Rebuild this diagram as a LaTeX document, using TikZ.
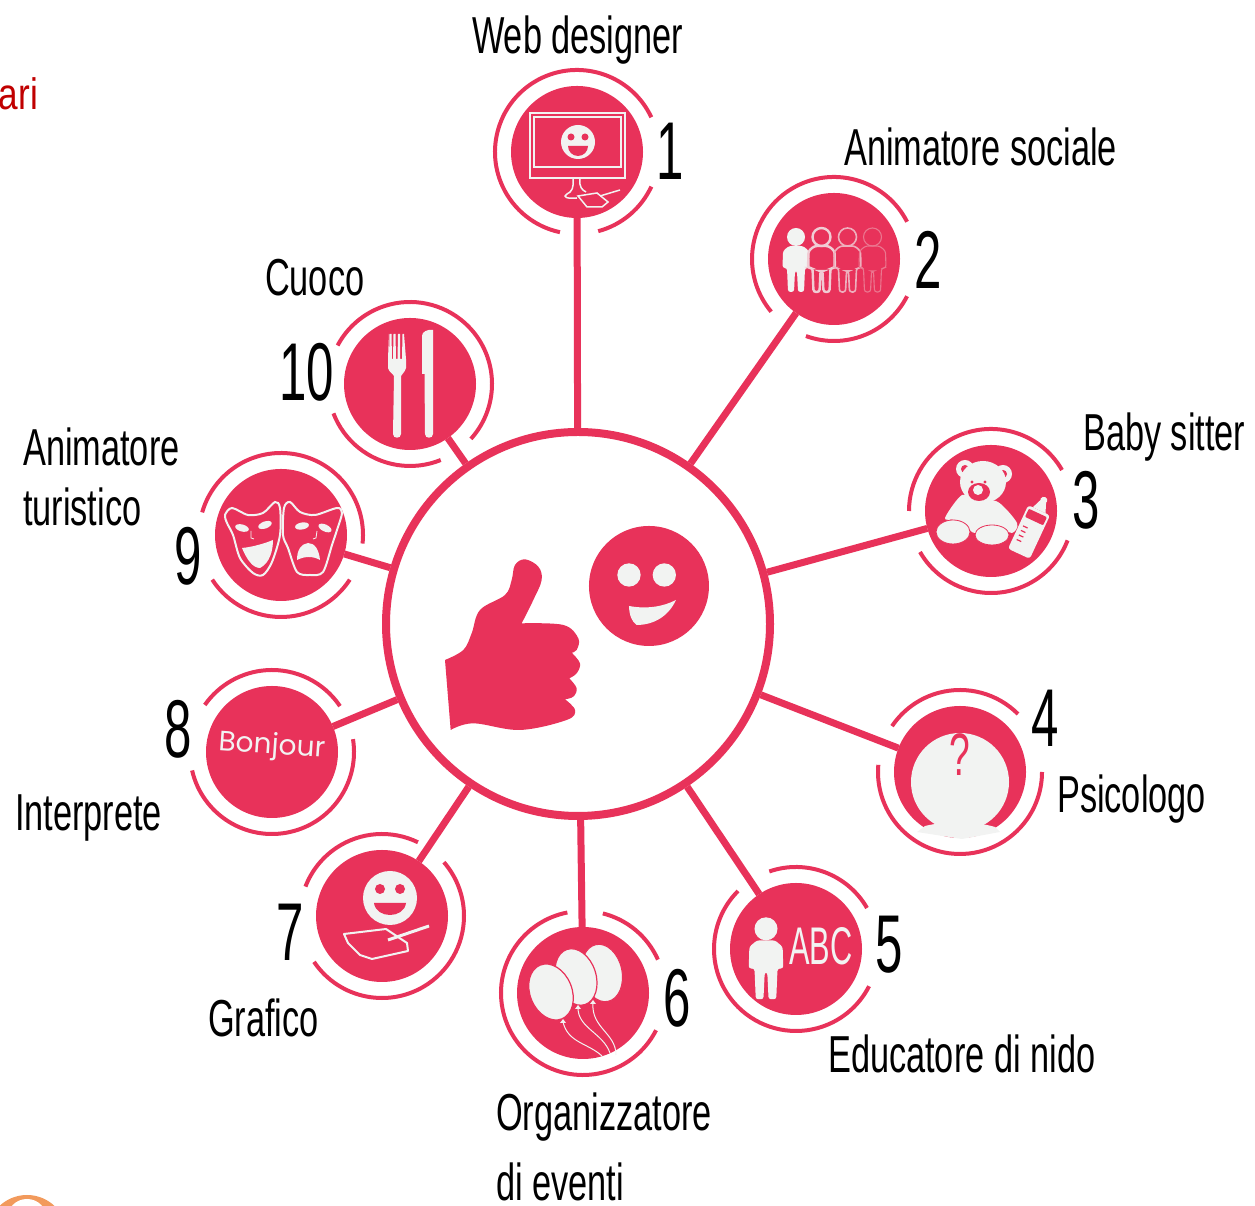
\documentclass[tikz,border=0pt]{standalone}
\usepackage{fontspec}
\setmainfont{Liberation Sans}
\newfontfamily\bonjourfont{Poppins}
\usepackage{xcolor}
\usepackage{tikz}
\definecolor{rosso}{HTML}{E8325A}
\definecolor{chiaro}{HTML}{F2F3F2}
\definecolor{rossotitolo}{HTML}{C00000}
\definecolor{arancio}{HTML}{F29A5C}
\newcommand{\kidshape}[1]{
    \path[#1] (0,22) circle (9);
    \path[#1,rounded corners=2.5pt] (-8,-33) -- (-9,-9) -- (-13.5,-9) -- (-13,8) -- (-7,13) -- (7,13) -- (13,8) -- (13.5,-9) -- (9,-9) -- (8,-33) -- (2,-33) -- (1,-12) -- (-1,-12) -- (-2,-33) -- cycle;
}
\tikzset{
    disc/.style={circle, fill=rosso, minimum size=132pt, inner sep=0pt, outer sep=0pt},
    hubring/.style={circle, draw=rosso, line width=8pt, minimum size=384pt, inner sep=0pt, fill=white},
    spoke/.style={draw=rosso, line width=7pt},
    ringline/.style={draw=rosso, line width=4pt},
    job/.style={anchor=base west, inner sep=0pt, font=\fontsize{52}{52}\selectfont, xscale=.66},
    num/.style={inner sep=0pt, font=\fontsize{82}{82}\selectfont, xscale=.6},
    tratto/.style={draw=chiaro, line width=1.5pt},
    chiarofill/.style={fill=chiaro},
    rossofill/.style={fill=rosso}
}
\begin{document}
\begin{tikzpicture}[x=1pt, y=1pt]
    \useasboundingbox (0,0) rectangle (1255,1206);

    \node (hub) [hubring] at (578,582) {};
    \foreach \n/\px/\py in {1/577/1054, 2/834/947, 3/991/695, 4/960/434, 5/796/257, 6/583/213, 7/382/290, 8/272/454, 9/281/671, 10/410/822}
        \node (d\n) [disc] at (\px,\py) {};
    \foreach \n in {1,...,10}
        \draw [spoke] (hub) -- (d\n);
    \foreach \n/\a/\b in {1/25/258, 1/285/335, 2/27/220, 2/250/333, 3/30/180, 3/210/339, 4/45/146, 4/175/360, 5/30/109, 5/135/333, 6/24/76, 6/101/333, 7/64/159, 7/214/401, 8/34/145, 8/193/369, 9/-6/164, 9/213/327, 10/318/512, 10/201/292}
        \draw [ringline] (d\n.center) ++(\a:82) arc [start angle=\a, end angle=\b, radius=82pt];

    \node (job1) [job] at (472,1152) {Web designer};
    \node (job2) [job] at (844,1040) {Animatore sociale};
    \node (job3) [job] at (1083,755) {Baby sitter};
    \node (job4) [job] at (1057,393) {Psicologo};
    \node (job5) [job] at (828,133) {Educatore di nido};
    \node (job6a) [job] at (496,75) {Organizzatore};
    \node (job6b) [job] at (496,5) {di eventi};
    \node (job7) [job] at (208,169) {Grafico};
    \node (job8) [job] at (15,375) {Interprete};
    \node (job9a) [job] at (23,740) {Animatore};
    \node (job9b) [job] at (23,680) {turistico};
    \node (job10) [job] at (265,910) {Cuoco};

    \node (num1) [num] at (670,1055) {1};
    \node (num2) [num] at (928,946) {2};
    \node (num3) [num] at (1086,706) {3};
    \node (num4) [num] at (1045,488) {4};
    \node (num5) [num] at (889,261) {5};
    \node (num6) [num] at (677,208) {6};
    \node (num7) [num] at (290,274) {7};
    \node (num8) [num] at (178,477) {8};
    \node (num9) [num] at (188,650) {9};
    \node (num10) [num] at (307,834) {10};

    \node (titolo) [anchor=base east, inner sep=0pt, text=rossotitolo, font=\fontsize{44}{44}\selectfont, xscale=.8] at (38,1096) {ari};
    \fill [arancio] (27,-29) circle (40);
    \fill [white] (27,-13) circle (20);

    \begin{scope}[shift={(430,696)}, x=.3333pt, y=-.3333pt]
        \fill [rosso] plot [smooth, tension=.6] coordinates {(45,450) (100,420) (125,370) (150,300) (225,255) (245,210) (255,165) (285,148) (325,170) (335,210) (310,270) (275,340)}
            -- plot [smooth, tension=.6] coordinates {(275,340) (400,345) (445,385) (440,420) (425,428)}
            -- plot [smooth, tension=.6] coordinates {(425,428) (450,460) (440,490) (418,505)}
            -- plot [smooth, tension=.6] coordinates {(418,505) (440,535) (430,560) (405,568)}
            -- plot [smooth, tension=.6] coordinates {(405,568) (435,600) (410,630) (270,660) (130,640) (62,660)}
            -- cycle;
        \fill [rosso] (657,228) circle [radius=180];
        \fill [chiaro] (597,195) circle [radius=35];
        \fill [chiaro] (703,195) circle [radius=35];
        \fill [chiaro] (597,288) .. controls (650,298) and (700,290) .. (738,270) .. controls (715,320) and (670,345) .. (620,345) .. controls (605,335) and (598,315) .. cycle;
    \end{scope}

    \begin{scope}[shift={(d1.center)}]
        \draw [tratto] (-47,-26) rectangle (48,39);
        \draw [tratto] (-43,-15) rectangle (44,35);
        \fill [chiaro] (1,10) circle (17);
        \fill [rosso] (-6,15) circle (3.5);
        \fill [rosso] (8,15) circle (3.5);
        \fill [rosso] (-9,6) arc [start angle=180, end angle=360, radius=10pt] -- cycle;
        \draw [tratto] (-4,-27) .. controls (-3,-35) and (-5,-40) .. (-10,-42) .. controls (-15,-45) and (-10,-47) .. (0,-46);
        \draw [tratto] (3,-27) .. controls (2,-35) and (5,-38) .. (9,-40);
        \draw [tratto] (1,-44) -- (20,-41) -- (31,-50) -- (25,-55) -- (10,-55) -- cycle;
        \draw [tratto] (23,-44) -- (43,-38);
    \end{scope}

    \begin{scope}[shift={(d2.center)}]
        \begin{scope}[xshift=-38]
            \kidshape{chiarofill}
        \end{scope}
        \begin{scope}[xshift=-12.5]
            \kidshape{draw=chiaro!80!rosso, line width=2.4pt}
        \end{scope}
        \begin{scope}[xshift=13.5]
            \kidshape{draw=chiaro!65!rosso, line width=1.6pt}
        \end{scope}
        \begin{scope}[xshift=38.5]
            \kidshape{draw=chiaro!35!rosso, line width=1.1pt}
        \end{scope}
    \end{scope}

    \begin{scope}[shift={(d3.center)}]
        \fill [chiaro] (-26,42) circle (9);
        \fill [chiaro] (12,37) circle (9);
        \fill [rosso] (-26,42) circle (4);
        \fill [rosso] (12,37) circle (4);
        \fill [chiaro] plot [smooth cycle] coordinates {(-46,-7) (-29,16) (-13,11) (7,9) (26,-12) (21,-22) (6,-16) (-16,-22) (-24,-16) (-36,-9)};
        \fill [chiaro] (-8,29) ellipse [x radius=23, y radius=21];
        \filldraw [chiaro, draw=rosso, line width=.8pt] (-38,-21) ellipse [x radius=17, y radius=12];
        \filldraw [chiaro, draw=rosso, line width=.8pt] (1,-24) ellipse [x radius=17, y radius=10];
        \fill [rosso] (-12,19) ellipse [x radius=11, y radius=9];
        \fill [chiaro] (-13,21) ellipse [x radius=5, y radius=5];
        \fill [rosso] (-19,29) circle (1.7);
        \fill [rosso] (-6,29) circle (1.7);
        \begin{scope}[shift={(38,-21)}, rotate=-25]
            \fill [chiaro, rounded corners=3pt] (-12,-24) rectangle (12,24);
            \fill [chiaro] (-7,24) -- (-3,34) -- (3,34) -- (7,24) -- cycle;
            \fill [chiaro] (0,35) circle (3.5);
            \fill [rosso, rounded corners=1pt] (-10,12) rectangle (10,21);
            \foreach \ty in {-12,-7,-2,3}
                \draw [rosso, line width=1.2pt] (-8,\ty) -- (-3,\ty);
        \end{scope}
    \end{scope}

    \begin{scope}[shift={(d4.center)}]
        \fill [chiaro] (0,-10) circle (49);
        \fill [chiaro] (-43,-60) -- (-35,-54) .. controls (-15,-49) and (15,-49) .. (35,-55) -- (40,-60) -- (2,-67) -- cycle;
        \node (domanda) [inner sep=0pt, text=rosso, font=\fontsize{60}{60}\selectfont, xscale=.62] at (0,17) {?};
    \end{scope}

    \begin{scope}[shift={(d5.center)}]
        \begin{scope}[shift={(-30,-8)}, scale=1.28]
            \kidshape{chiarofill}
        \end{scope}
        \node (abc) [inner sep=0pt, text=chiaro, font=\fontsize{53}{53}\selectfont, xscale=.58] at (25,3) {ABC};
    \end{scope}

    \begin{scope}[shift={(d6.center)}]
        \draw [chiaro, line width=1pt] (-20,-29) .. controls (-15,-50) and (5,-50) .. (19,-63);
        \draw [chiaro, line width=1pt] (-5,-15) .. controls (-5,-35) and (20,-40) .. (27,-60);
        \draw [chiaro, line width=1pt] (10,-10) .. controls (8,-35) and (33,-40) .. (33,-62);
        \filldraw [chiaro, draw=rosso, line width=1pt, rotate around={12:(19,20)}] (19,20) ellipse [x radius=20, y radius=29];
        \filldraw [chiaro, draw=rosso, line width=1.2pt, rotate around={18:(-7,16)}] (-7,16) ellipse [x radius=20, y radius=29];
        \filldraw [chiaro, draw=rosso, line width=1.2pt, rotate around={22:(-32,1)}] (-32,1) ellipse [x radius=21, y radius=29];
        \fill [chiaro] (-20,-26) -- (-23,-30) -- (-17,-30) -- cycle;
        \fill [chiaro] (-5,-12) -- (-8,-16) -- (-2,-16) -- cycle;
        \fill [chiaro] (10,-7) -- (7,-11) -- (13,-11) -- cycle;
    \end{scope}

    \begin{scope}[shift={(d7.center)}]
        \fill [chiaro] (8,18) circle (27);
        \fill [rosso] (-2,27) circle (5);
        \fill [rosso] (18,27) circle (5);
        \fill [rosso] (-8,13) .. controls (-6,-3) and (22,-3) .. (24,13) -- cycle;
        \draw [chiaro, line width=2pt, line join=round] (-38,-18) -- (4,-13) -- (25,-27) -- (26,-35) -- (-10,-43) -- (-22,-39) -- (-34,-27) -- cycle;
        \draw [chiaro, line width=3pt] (6,-24) -- (47,-10);
    \end{scope}

    \node (bonjour) [inner sep=0pt, rotate=-4, text=chiaro, font=\bonjourfont\fontsize{28}{28}\selectfont] at (272,459) {Bonjour};

    \begin{scope}[shift={(d9.center)}]
        \draw [chiaro, line width=2pt] plot [smooth cycle, tension=.5] coordinates {(-56,20) (-49,27) (-33,20) (-18,22) (-6,33) (-1,27) (-1,0) (-9,-27) (-18,-40) (-28,-38) (-41,-23) (-48,0) (-54,12)};
        \draw [chiaro, line width=2pt] plot [smooth cycle, tension=.5] coordinates {(3,27) (9,33) (19,23) (34,20) (56,27) (61,22) (56,5) (51,-10) (42,-37) (29,-40) (16,-37) (7,-13) (2,0)};
        \fill [chiaro, rotate around={-15:(-39,7)}] (-39,7) ellipse [x radius=7, y radius=3.5];
        \fill [chiaro, rotate around={20:(-16,10)}] (-16,10) ellipse [x radius=7, y radius=3.5];
        \fill [chiaro, rotate around={10:(21,9)}] (21,9) ellipse [x radius=7, y radius=3.5];
        \fill [chiaro, rotate around={-25:(44,7)}] (44,7) ellipse [x radius=7, y radius=3.5];
        \fill [chiaro] (-39,-13) .. controls (-28,-12) and (-15,-8) .. (-8,-5) .. controls (-8,-15) and (-11,-28) .. (-21,-33) .. controls (-28,-33) and (-34,-25) .. cycle;
        \fill [chiaro] (16,-25) .. controls (16,-15) and (20,-9) .. (27,-8) .. controls (34,-8) and (38,-15) .. (39,-25) .. controls (32,-21) and (24,-21) .. cycle;
        \draw [chiaro, line width=.8pt] (-30,4) -- (-30,-3) -- (-27,-4);
        \draw [chiaro, line width=.8pt] (36,4) -- (35,-3) -- (32,-4);
    \end{scope}

    \begin{scope}[shift={(d10.center)}]
        \fill [chiaro] (-22,50) -- (-21,25) -- (-20.5,50) -- (-18.5,50) -- (-18,25) -- (-17,25) -- (-16.5,50) -- (-14.5,50) -- (-14,25) -- (-12.5,25) -- (-12,50) -- (-10,50) -- (-10,25) -- (-8,25) -- (-7.5,50) -- (-6,50) -- (-4,25) -- (-4,16) .. controls (-5,12) and (-8,10) .. (-9,8) -- (-9,-50) .. controls (-9,-55) and (-17,-55) .. (-17,-50) -- (-16,8) .. controls (-17,10) and (-21,12) .. (-22,16) -- cycle;
        \fill [chiaro] (12,10) -- (12,48) .. controls (12,52) and (17,55) .. (23,54) -- (23,-50) .. controls (23,-55) and (15,-55) .. (15,-50) -- (14.5,10) -- cycle;
    \end{scope}
\end{tikzpicture}
\end{document}
